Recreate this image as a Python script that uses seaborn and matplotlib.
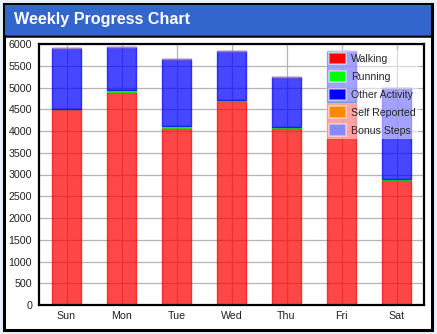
import numpy as np
import pandas as pd
import matplotlib
matplotlib.use("Agg")
import matplotlib.pyplot as plt
from matplotlib.patches import Rectangle, Patch
from matplotlib.lines import Line2D
import seaborn as sns

days = ["Sun", "Mon", "Tue", "Wed", "Thu", "Fri", "Sat"]
walking = [4500, 4900, 4070, 4680, 4070, 4640, 2880]
running = [10, 40, 40, 30, 30, 30, 20]
other_activity = [1400, 1000, 1540, 1140, 1140, 1180, 2080]
self_reported = [0, 0, 0, 0, 0, 0, 10]
bonus_steps = [0, 0, 0, 0, 0, 0, 0]

series_names = ["Walking", "Running", "Other Activity", "Self Reported", "Bonus Steps"]
series_values = [walking, running, other_activity, self_reported, bonus_steps]
series_colors = ["#ff0000", "#00ff00", "#0000ff", "#ff8800", "#8888ff"]
yticks = [0, 500, 1000, 1500, 2000, 2500, 3000, 3500, 4000, 4500, 5000, 5500, 6000]

sns.set_style("white")
plt.rcParams["font.family"] = ["Liberation Sans", "DejaVu Sans"]

W, H = 437, 334
fig = plt.figure(figsize=(W / 100, H / 100), dpi=100)
fig.patch.set_facecolor("#e9f1fb")

def px_rect(x0, y0, x1, y1, **kw):
    # pixel coords (top-left origin) -> figure fraction
    return Rectangle((x0 / W, 1 - y1 / H), (x1 - x0) / W, (y1 - y0) / H,
                     transform=fig.transFigure, figure=fig, **kw)

fig.patches.append(px_rect(4, 4, 432, 330, facecolor="white", edgecolor="black",
                           linewidth=2.2, zorder=-10))
fig.patches.append(px_rect(5, 5, 431, 34.5, facecolor="#3366cc", edgecolor="none", zorder=-9))
fig.lines.append(Line2D([4 / W, 432 / W], [1 - 35.5 / H, 1 - 35.5 / H],
                        transform=fig.transFigure, color="black", linewidth=1.8, zorder=-8))
fig.text(14 / W, 1 - 19.5 / H, "Weekly Progress Chart", color="white",
         fontsize=11.6, fontweight="bold", va="center", ha="left")

ax = fig.add_axes([39 / W, 1 - 305 / H, (424 - 39) / W, (305 - 44) / H])
ax.set_facecolor("white")

df = pd.DataFrame({"day": days})
bottom = np.zeros(len(days))
for name, vals, col in zip(series_names, series_values, series_colors):
    df[name] = vals
    sns.barplot(data=df, x="day", y=name, order=days, color=col, width=0.53,
                bottom=bottom.copy(), alpha=0.72, edgecolor=col, linewidth=1.0,
                saturation=1, ax=ax, zorder=2)
    bottom = bottom + np.array(vals, dtype=float)

ax.set_xlim(-0.5, len(days) - 0.5)
ax.set_ylim(0, 6000)
ax.set_yticks(yticks)
ax.set_yticklabels([str(v) for v in yticks])
ax.set_xlabel("")
ax.set_ylabel("")
ax.grid(True, color="#b4b4b4", linewidth=0.9, zorder=0)
ax.set_axisbelow(True)
for s in ax.spines.values():
    s.set_visible(True)
    s.set_color("black")
    s.set_linewidth(1.6)
ax.tick_params(axis="both", length=0, labelsize=7.7, colors="#222222")
ax.tick_params(axis="y", pad=5)
ax.tick_params(axis="x", pad=4)

handles = [Patch(facecolor=c, edgecolor=(1, 1, 1, 0.5), linewidth=1.2) for c in series_colors]
leg = ax.legend(handles, series_names, loc="upper left", bbox_to_anchor=(0.745, 0.978),
                fontsize=7.6, frameon=True, fancybox=False, framealpha=0.5,
                handlelength=1.65, handleheight=1.3, labelspacing=0.6,
                handletextpad=0.4, borderpad=0.3, borderaxespad=0)
leg.get_frame().set_facecolor("white")
leg.get_frame().set_edgecolor("none")

fig.savefig("out.png", dpi=100, facecolor=fig.get_facecolor())
